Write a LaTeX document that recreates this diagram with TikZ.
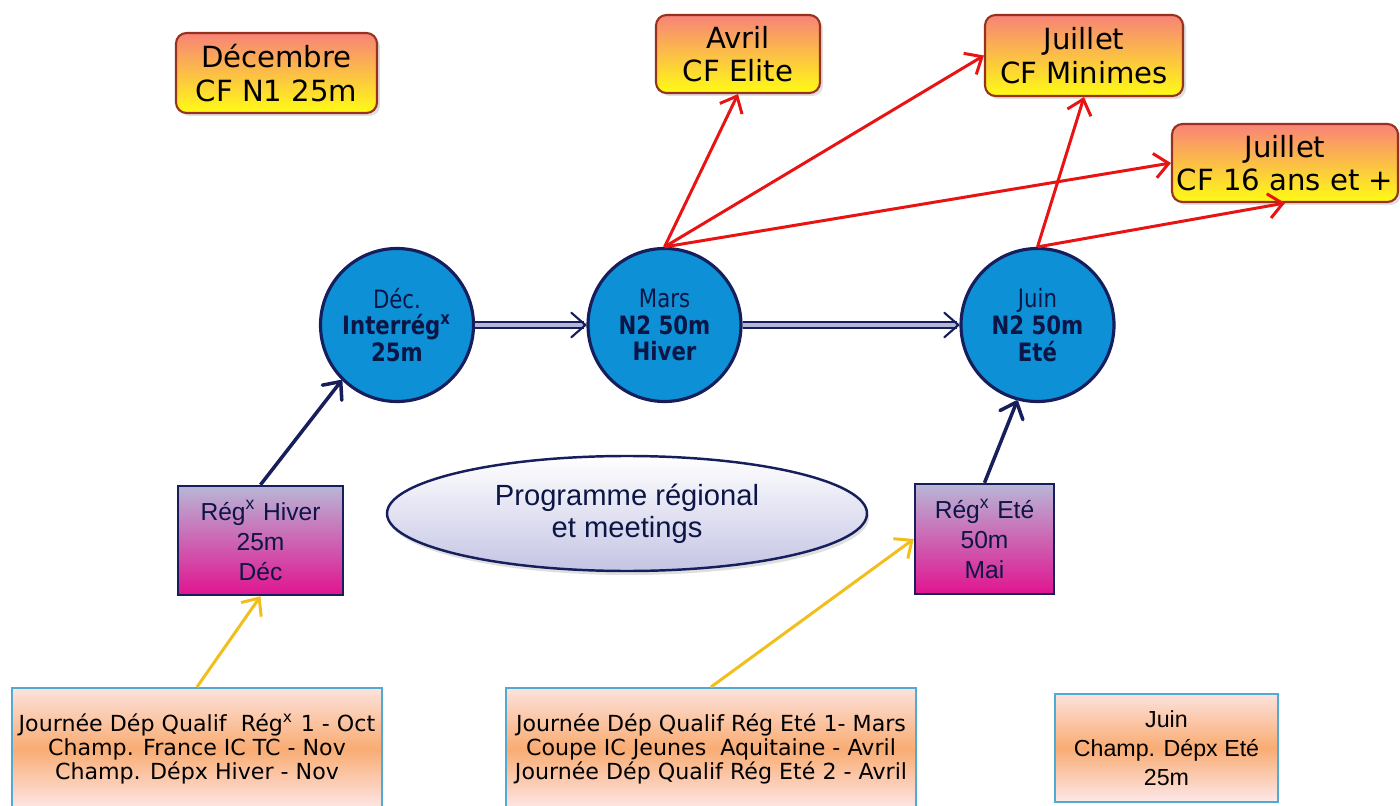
\documentclass[tikz,border=0pt]{standalone}
\usepackage{fontspec}
\setmainfont{DejaVu Sans}
\newfontfamily\arialfont{Liberation Sans}
\newfontfamily\etapefont[FakeStretch = 0.84]{DejaVu Sans}
\usetikzlibrary{arrows.meta,shadows,shapes.geometric}

\definecolor{navy}{RGB}{22,30,92}
\definecolor{navytext}{RGB}{12,22,70}
\definecolor{bleu}{RGB}{14,144,214}
\definecolor{champtop}{RGB}{248,130,120}
\definecolor{champmid}{RGB}{253,196,90}
\definecolor{champbot}{RGB}{255,252,20}
\definecolor{champbord}{RGB}{150,50,30}
\definecolor{regtop}{RGB}{184,182,214}
\definecolor{regbot}{RGB}{224,20,144}
\definecolor{bastop}{RGB}{252,226,220}
\definecolor{basmid}{RGB}{249,172,115}
\definecolor{basbot}{RGB}{253,232,234}
\definecolor{basbord}{RGB}{80,170,210}
\definecolor{progbot}{RGB}{196,196,228}
\definecolor{rouge}{RGB}{232,20,20}
\definecolor{jaune}{RGB}{242,190,30}

\begin{document}
\begin{tikzpicture}[
    champ/.style = {rounded corners = 3pt, draw = champbord, line width = 0.6pt,
        top color = champtop, middle color = champmid, bottom color = champbot,
        align = center, inner sep = 0pt,
        font = \fontsize{8.3}{9.6}\selectfont,
        drop shadow = {opacity = 0.25, shadow xshift = 0.03, shadow yshift = -0.03}},
    etape/.style = {circle, draw = navy, line width = 0.9pt, fill = bleu,
        minimum size = 1.53cm, inner sep = 0pt, align = center, text = navytext,
        font = \etapefont\fontsize{7.2}{7.6}\selectfont},
    reg/.style = {draw = navy, line width = 0.7pt, top color = regtop, bottom color = regbot,
        align = center, inner sep = 0pt, text = navytext,
        font = \arialfont\fontsize{7}{8.5}\selectfont},
    bas/.style = {draw = basbord, line width = 0.6pt, top color = bastop, bottom color = basbot,
        middle color = basmid, align = center, inner sep = 0pt,
        font = \fontsize{6.3}{6.8}\selectfont},
    qualif/.style = {rouge, line width = 0.85pt, -{Straight Barb[length = 4pt, width = 7pt]}},
    monte/.style = {navy, line width = 1pt, -{Straight Barb[round, length = 4pt, width = 7pt]}},
    suite/.style = {draw = navy, double = regtop, double distance = 1.1pt, line width = 0.6pt,
        -{Straight Barb[round, length = 4pt, width = 7pt]}},
    vient/.style = {jaune, line width = 0.85pt, -{Straight Barb[length = 4pt, width = 7pt]}}
]
    \useasboundingbox (0,0) rectangle (14,8.05);

    % championnats de France
    \node[champ, minimum width = 2.01cm, minimum height = 0.80cm] (decembre) at (2.765, 7.32) {Décembre\\CF N1 25m};
    \node[champ, minimum width = 1.64cm, minimum height = 0.78cm] (avril) at (7.38, 7.51) {Avril\\CF Elite};
    \node[champ, minimum width = 1.98cm, minimum height = 0.81cm] (minimes) at (10.84, 7.495) {Juillet\\CF Minimes};
    \node[champ, minimum width = 2.26cm, minimum height = 0.78cm] (seize) at (12.85, 6.42) {Juillet\\CF 16 ans et +};

    % etapes nationales
    \node[etape] (dec) at (3.97, 4.80) {Déc.\\\textbf{Interrég\textsuperscript{x}}\\\textbf{25m}};
    \node[etape] (mars) at (6.645, 4.80) {Mars\\\textbf{N2 50m}\\\textbf{Hiver}};
    \node[etape] (juin) at (10.375, 4.80) {Juin\\\textbf{N2 50m}\\\textbf{Eté}};

    % regionaux
    \node[reg, minimum width = 1.65cm, minimum height = 1.09cm] (hiver) at (2.605, 2.645) {Rég\textsuperscript{x} Hiver\\25m\\Déc};
    \node[reg, minimum width = 1.39cm, minimum height = 1.10cm] (ete) at (9.845, 2.66) {Rég\textsuperscript{x} Eté\\50m\\Mai};
    \node[ellipse, draw = navy, line width = 0.7pt, top color = white, bottom color = progbot,
        minimum width = 4.80cm, minimum height = 1.15cm, inner sep = 0pt, align = center,
        text = navytext, font = \arialfont\fontsize{8.3}{9}\selectfont,
        drop shadow = {opacity = 0.25, shadow xshift = 0.02, shadow yshift = -0.04}]
        (prog) at (6.27, 2.915) {Programme régional\\et meetings};

    % departementaux
    \node[bas, minimum width = 3.70cm, minimum height = 1.22cm] (bas1) at (1.97, 0.56)
        {Journée Dép Qualif\ \ Rég\textsuperscript{x} 1 - Oct\\Champ. France IC TC - Nov\\Champ. Dépx Hiver - Nov};
    \node[bas, minimum width = 4.10cm, minimum height = 1.22cm] (bas2) at (7.11, 0.56)
        {Journée Dép Qualif Rég Eté 1- Mars\\Coupe IC Jeunes\ \ Aquitaine - Avril\\Journée Dép Qualif Rég Eté 2 - Avril};
    \node[bas, minimum width = 2.23cm, minimum height = 1.08cm, font = \arialfont\fontsize{6.6}{8.2}\selectfont]
        (juinbas) at (11.665, 0.57) {Juin\\Champ. Dépx Eté\\25m};

    \draw[qualif] (mars.north) -- (avril.south);
    \draw[qualif] (mars.north) -- (minimes.west);
    \draw[qualif] (mars.north) -- (seize.west);
    \draw[qualif] (juin.north) -- (minimes.south);
    \draw[qualif] (juin.north) -- (seize.south);

    \draw[suite] (dec.east) -- (mars.west);
    \draw[suite] (mars.east) -- (juin.west);

    \draw[monte] (hiver.north) -- (dec.225);
    \draw[monte] (ete.north) -- (juin.255);

    \draw[vient] (bas1.north) -- (hiver.south);
    \draw[vient] (bas2.north) -- (ete.west);
\end{tikzpicture}
\end{document}
